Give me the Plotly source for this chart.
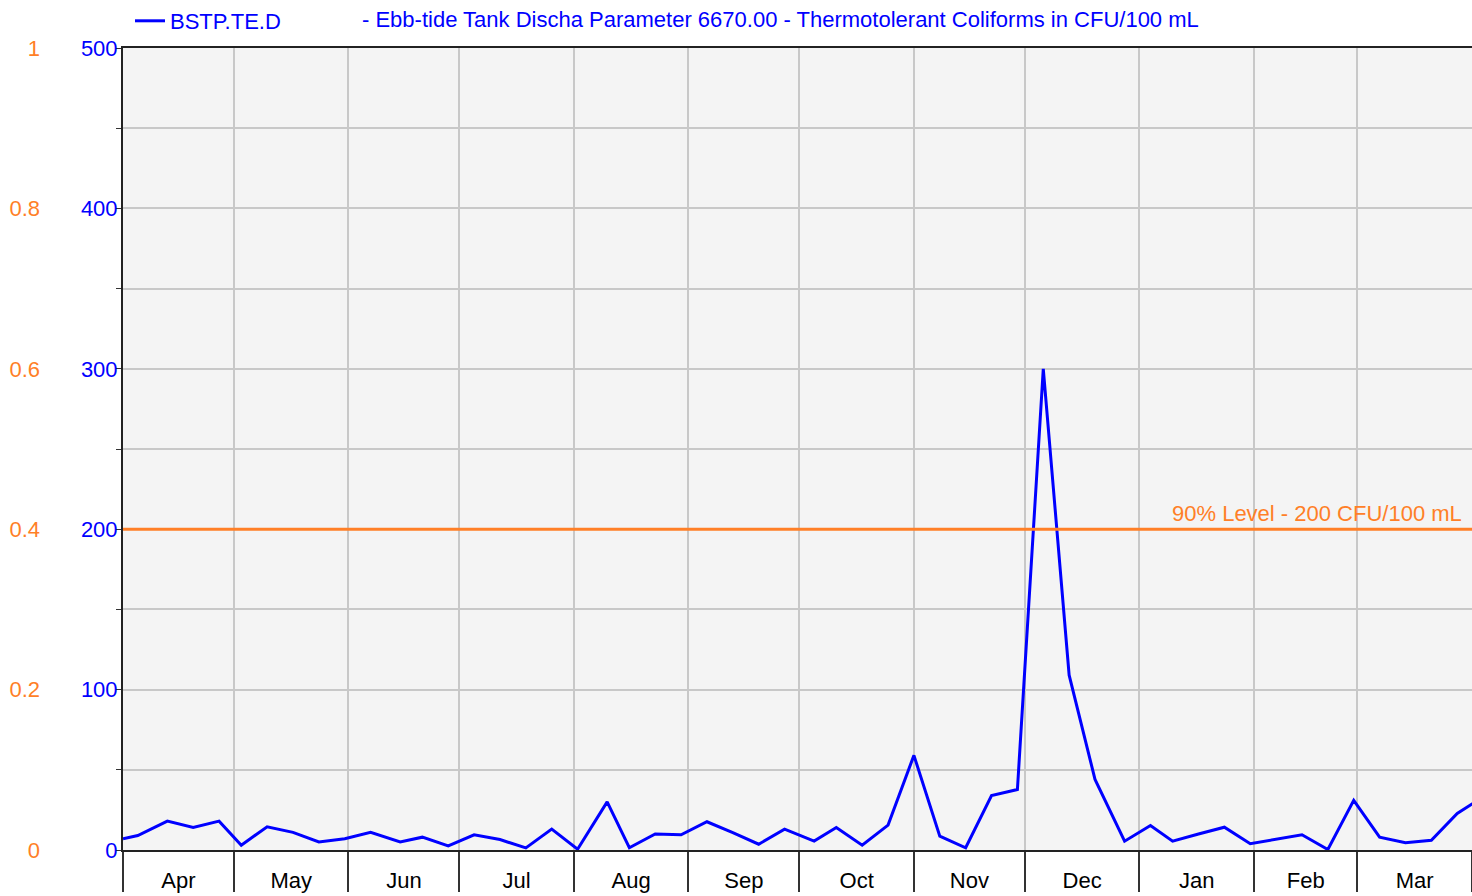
import plotly.graph_objects as go

# ---- data ----
dates = [
    "2018-04-01", "2018-04-05", "2018-04-13", "2018-04-20", "2018-04-27",
    "2018-05-03", "2018-05-10", "2018-05-17", "2018-05-24", "2018-05-31",
    "2018-06-07", "2018-06-15", "2018-06-21", "2018-06-28",
    "2018-07-05", "2018-07-12", "2018-07-19", "2018-07-26",
    "2018-08-02", "2018-08-10", "2018-08-16", "2018-08-23", "2018-08-30",
    "2018-09-06", "2018-09-13", "2018-09-20", "2018-09-27",
    "2018-10-05", "2018-10-11", "2018-10-18", "2018-10-25",
    "2018-11-01", "2018-11-08", "2018-11-15", "2018-11-22", "2018-11-29",
    "2018-12-06", "2018-12-13", "2018-12-20", "2018-12-28",
    "2019-01-04", "2019-01-10", "2019-01-17", "2019-01-24", "2019-01-31",
    "2019-02-07", "2019-02-14", "2019-02-21", "2019-02-28",
    "2019-03-07", "2019-03-14", "2019-03-21", "2019-03-28", "2019-04-04",
]
values = [
    7, 9, 18, 14, 18,
    3, 14.5, 11, 5, 7,
    11, 5, 8, 2.5,
    9.5, 6.5, 1.3, 13,
    0.5, 30, 1.4, 10, 9.5,
    17.6, 10.8, 3.6, 13,
    5.6, 14, 3, 15.5,
    59, 8.6, 1.4, 34, 37.7,
    300, 109, 44, 5.5,
    15.3, 5.5, 10, 14.2, 3.9,
    6.7, 9.5, 0.3, 31,
    8, 4.5, 6.1, 22.8, 33,
]
series_name = "BSTP.TE.D"
title_text = "- Ebb-tide Tank Discha Parameter 6670.00 - Thermotolerant Coliforms in CFU/100 mL"
threshold = 200
threshold_label = "90% Level - 200 CFU/100 mL"
x_range = ["2018-04-01", "2019-04-01"]
y_range = [0, 500]
y2_range = [0, 1]

BLUE = "#0000FF"
ORANGE = "#FF7F27"
FONT = "Liberation Sans, Arial, sans-serif"
FS = 22
W, H = 1472, 896
ML, MR, MT, MB = 40, 0, 48, 46
plot_left = 123

fig = go.Figure()
fig.add_trace(go.Scatter(
    x=dates, y=values, mode="lines", name=series_name,
    line=dict(color=BLUE, width=3),
))
fig.add_trace(go.Scatter(
    x=[x_range[0]], y=[0], yaxis="y2", mode="markers",
    marker=dict(opacity=0), showlegend=False, hoverinfo="skip",
))

fig.add_shape(type="line", xref="x domain", x0=0, x1=1, yref="y",
              y0=threshold, y1=threshold, line=dict(color=ORANGE, width=3))

pw = W - ML - MR
ph = H - MT - MB
dom0 = (plot_left - ML) / pw

fig.add_annotation(text=threshold_label, xref="paper", x=(1464 - ML) / pw,
                   xanchor="right", yref="y", y=threshold, yanchor="bottom",
                   yshift=1, showarrow=False,
                   font=dict(color=ORANGE, size=FS, family=FONT))
fig.add_annotation(text=title_text, xref="paper", x=(360 - ML) / pw,
                   xanchor="left", yref="paper", y=1 + (MT - 20) / ph,
                   yanchor="middle", showarrow=False,
                   font=dict(color=BLUE, size=FS, family=FONT))

fig.update_layout(
    width=W, height=H,
    margin=dict(l=ML, r=MR, t=MT, b=MB, autoexpand=False),
    paper_bgcolor="white", plot_bgcolor="#F4F4F4",
    font=dict(family=FONT, size=FS, color="black"),
    showlegend=True,
    legend=dict(orientation="h", xref="container", yref="container",
                x=130 / W, y=1.0, xanchor="left", yanchor="top",
                font=dict(color=BLUE, size=FS, family=FONT),
                bgcolor="rgba(0,0,0,0)"),
    xaxis=dict(
        domain=[dom0, 1], range=x_range, type="date",
        dtick="M1", tick0="2018-04-01", tickformat="%b",
        ticklabelmode="period", ticks="outside", ticklen=40,
        tickcolor="#333333", tickwidth=2, ticklabelstandoff=-30,
        showgrid=True, gridcolor="#C8C8C8", gridwidth=1.5,
        showline=True, linecolor="#222222", linewidth=2, mirror=True,
        tickfont=dict(color="black", size=FS, family=FONT),
        zeroline=False,
    ),
    yaxis=dict(
        range=y_range, dtick=100, tick0=0, ticks="outside", ticklen=5,
        tickcolor="#333333", showgrid=True, gridcolor="#C8C8C8", gridwidth=1.5,
        minor=dict(dtick=50, ticks="outside", ticklen=5, tickcolor="#333333",
                   showgrid=True, gridcolor="#C8C8C8", gridwidth=1.5),
        showline=True, linecolor="#222222", linewidth=2,
        ticklabelstandoff=-6,
        tickfont=dict(color=BLUE, size=FS, family=FONT),
        zeroline=False,
    ),
    yaxis2=dict(
        range=y2_range, dtick=0.2, tick0=0, overlaying="y", anchor="free",
        position=0, side="left", showgrid=False, showline=False, ticks="",
        tickfont=dict(color=ORANGE, size=FS, family=FONT), zeroline=False,
    ),
)

fig.write_html(
    "out.html",
    config={"displayModeBar": False},
    post_script="document.body.style.margin='0px';document.body.style.overflow='hidden';",
)
